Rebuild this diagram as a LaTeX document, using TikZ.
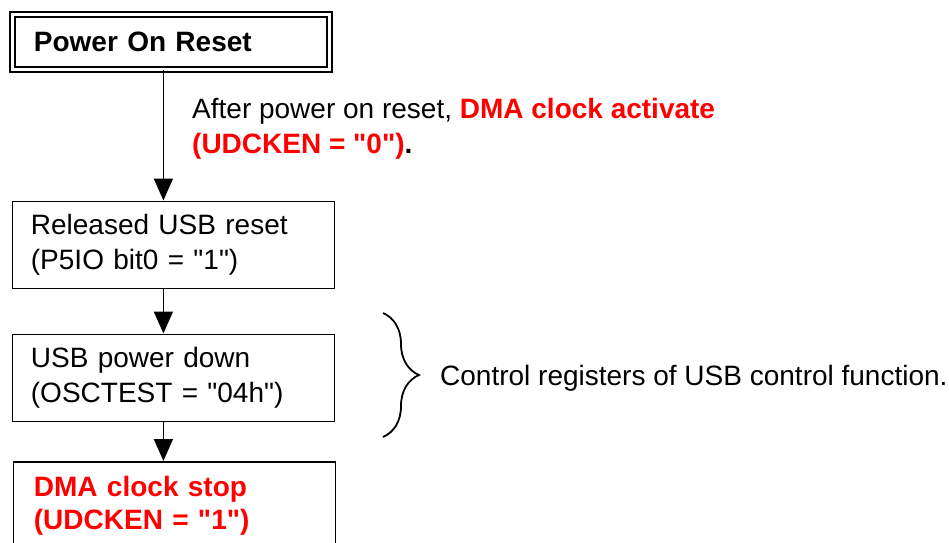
\documentclass[tikz,border=0pt]{standalone}
\usepackage{fontspec}
\setmainfont{Liberation Sans}
\usetikzlibrary{arrows.meta,positioning,decorations.pathreplacing}

\newcommand\dq{\textquotedbl}

\begin{document}
\begin{tikzpicture}[x=1pt,y=-1pt,>={Triangle[width=19pt,length=22pt]},
        every node/.style={font=\fontsize{28}{35}\selectfont},
        box/.style={draw,line width=1.8pt,anchor=north west,minimum width=322pt,
          minimum height=87pt,text width=285pt,inner xsep=18.5pt,align=left},
        flow/.style={->,line width=1.8pt}]

  \clip (0,0) rectangle (949,542);

  \node[draw,double,double distance=3pt,line width=1.8pt,anchor=north west,
        minimum width=317pt,minimum height=55pt,text width=274pt,inner xsep=21.5pt,
        align=left,font=\fontsize{28}{35}\selectfont\bfseries] (por) at (11.5,13.5) {Power On Reset};
  \node[box] (rel) at (11.5,200.5) {Released USB reset\\(P5IO bit0 = \dq1\dq)};
  \node[box] (pdn) at (11.5,333.5) {USB power down\\(OSCTEST = \dq04h\dq)};
  \node[box,text=red,inner xsep=20.5pt,text width=281pt,
        font=\fontsize{28}{33}\selectfont\bfseries] (stp) at (12.5,461)
    {DMA clock stop\\(UDCKEN = \dq1\dq)};

  \node[anchor=north west,inner sep=0pt,align=left] (note) at (192,98)
    {After power on reset, \textcolor{red}{\bfseries DMA clock activate}\\
     \textcolor{red}{\bfseries (UDCKEN = \dq0\dq)}\textbf{.}};

  \draw[flow] ([xshift=-10pt]rel.north |- por.south) -- ([xshift=-10pt]rel.north);
  \draw[flow] ([xshift=-10pt]rel.south) -- ([xshift=-10pt]pdn.north);
  \draw[flow] ([xshift=-10pt]pdn.south) -- ([xshift=-10pt]pdn.south |- stp.north);

  % brace over the USB control steps
  \coordinate (btop) at (383,313);
  \coordinate (bbot) at (383,437);
  \draw[line width=1.8pt,decorate,decoration={brace,amplitude=36pt}] (btop) -- (bbot);
  \node[anchor=west,inner sep=0pt] (ctl) at (440,378) {Control registers of USB control function.};

\end{tikzpicture}
\end{document}
